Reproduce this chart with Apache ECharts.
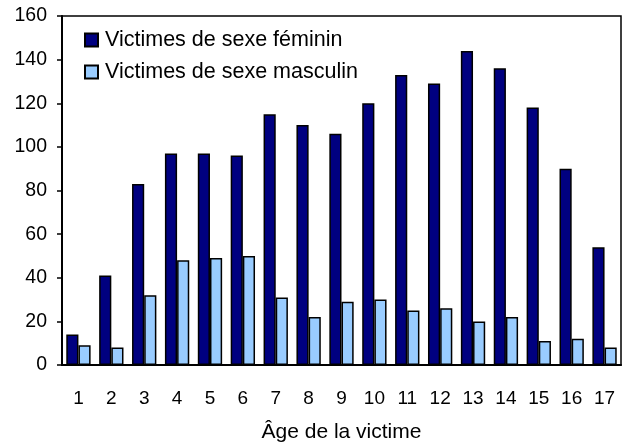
<!DOCTYPE html>
<html>
<head>
<meta charset="utf-8">
<script src="https://cdn.jsdelivr.net/npm/echarts@6/dist/echarts.min.js"></script>
<style>html,body{margin:0;padding:0;background:#fff}#c{width:623px;height:448px}</style>
</head>
<body>
<div id="c"></div>
<script>
const categories = ['1','2','3','4','5','6','7','8','9','10','11','12','13','14','15','16','17'];
const femaleValues = [14, 41, 83, 97, 97, 96, 115, 110, 106, 120, 133, 129, 144, 136, 118, 90, 54];
const maleValues = [9, 8, 32, 48, 49, 50, 31, 22, 29, 30, 25, 26, 20, 22, 11, 12, 8];
const seriesNames = ['Victimes de sexe féminin', 'Victimes de sexe masculin'];
const xTitle = 'Âge de la victime';

const font = 'Arial, "Liberation Sans", sans-serif';
const chart = echarts.init(document.getElementById('c'), null, {renderer: 'canvas'});
chart.setOption({
  animation: false,
  backgroundColor: '#fff',
  grid: {left: 62, right: 2, top: 16, bottom: 78, show: true, borderColor: '#000', borderWidth: 1.5, containLabel: false},
  legend: {
    orient: 'vertical', left: 79, top: 24,
    itemWidth: 13, itemHeight: 13, itemGap: 10,
    icon: 'rect',
    textStyle: {fontFamily: font, fontSize: 21.5, color: '#000', padding: [0, 0, 0, 2]},
    data: seriesNames
  },
  xAxis: {
    type: 'category', data: categories,
    axisLine: {lineStyle: {color: '#000', width: 2}},
    axisTick: {show: false},
    axisLabel: {fontFamily: font, fontSize: 19, color: '#000', margin: 24},
    name: xTitle, nameLocation: 'middle', nameGap: 57,
    nameTextStyle: {fontFamily: font, fontSize: 21, color: '#000'}
  },
  yAxis: {
    type: 'value', min: 0, max: 160, interval: 20,
    axisLine: {show: true, lineStyle: {color: '#000', width: 2}},
    axisTick: {show: true, length: 5, lineStyle: {color: '#000', width: 1.5}},
    splitLine: {show: false},
    axisLabel: {fontFamily: font, fontSize: 19.5, color: '#000', margin: 15}
  },
  series: [
    {name: seriesNames[0], type: 'bar', data: femaleValues, barGap: '0%', barCategoryGap: '26%',
     itemStyle: {color: '#000080', borderColor: '#000', borderWidth: 1.5}},
    {name: seriesNames[1], type: 'bar', data: maleValues, barGap: '0%', barCategoryGap: '26%',
     itemStyle: {color: '#99CCFF', borderColor: '#000', borderWidth: 1.5}}
  ]
});
</script>
</body>
</html>
